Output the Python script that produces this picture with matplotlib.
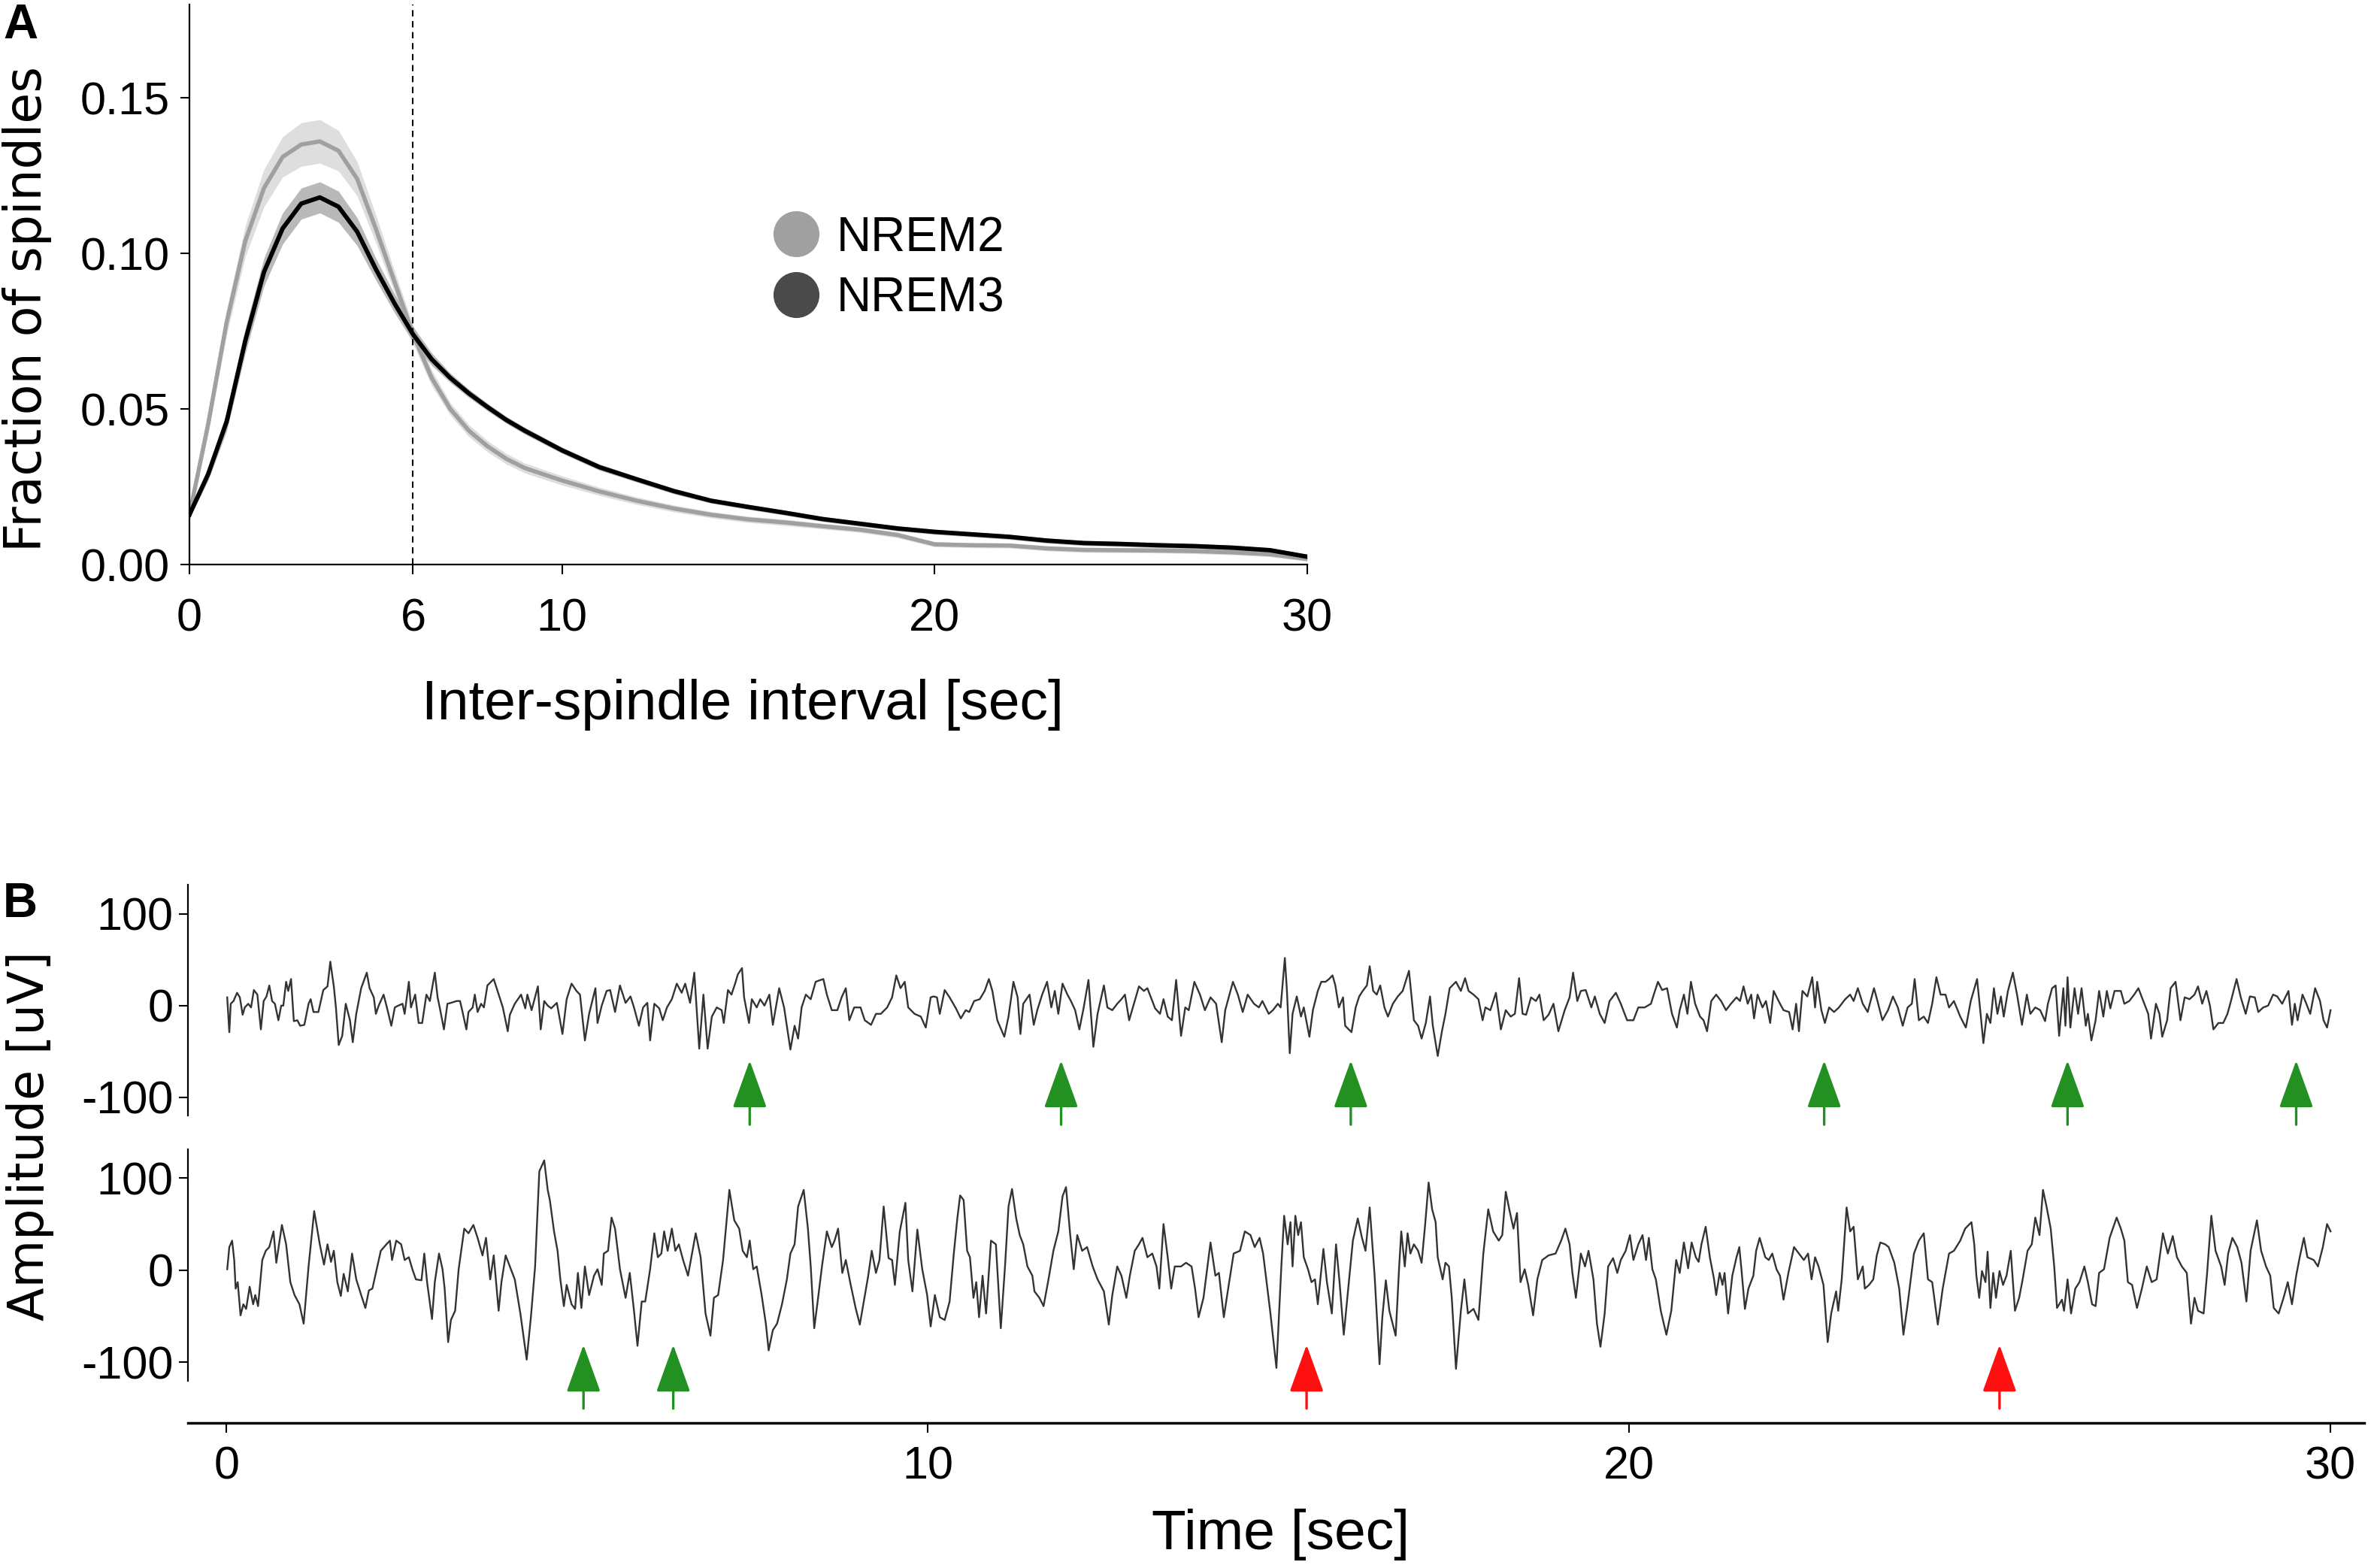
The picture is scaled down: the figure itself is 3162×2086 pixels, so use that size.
import matplotlib.pyplot as plt
from matplotlib.lines import Line2D
import numpy as np

plt.rcParams['font.family'] = ['Liberation Sans', 'DejaVu Sans']
plt.rcParams['axes.unicode_minus'] = False

# Panel A: inter-spindle interval distributions
isi_sec = [0, 0.5, 1, 1.5, 2, 2.5, 3, 3.5, 4, 4.5, 5, 5.5, 6, 6.5, 7, 7.5,
           8, 8.5, 9, 10, 11, 12, 13, 14, 15, 16, 17, 18, 19, 20, 21, 22, 23, 24, 25, 26, 27, 28, 29, 30]
nrem2_mean = [0.016, 0.045, 0.078, 0.104, 0.121, 0.131, 0.135, 0.136, 0.133, 0.124, 0.108, 0.091, 0.074, 0.060, 0.050, 0.043,
              0.038, 0.034, 0.031, 0.027, 0.0235, 0.0205, 0.018, 0.016, 0.0145, 0.0135, 0.0123, 0.0112, 0.0095, 0.0065,
              0.0062, 0.0061, 0.0052, 0.0047, 0.0046, 0.0045, 0.0043, 0.0039, 0.0033, 0.0018]
nrem2_sem = [0.001, 0.003, 0.004, 0.005, 0.006, 0.0065, 0.007, 0.007, 0.0065, 0.0055, 0.0045, 0.0035, 0.003, 0.0025, 0.002, 0.0019,
             0.0018, 0.0017, 0.0016, 0.0015, 0.0013, 0.0012, 0.0011, 0.001, 0.001, 0.001, 0.0009, 0.0009, 0.0009, 0.0008,
             0.0008, 0.0008, 0.0008, 0.0008, 0.0008, 0.0008, 0.0008, 0.0008, 0.0008, 0.0008]
nrem3_mean = [0.016, 0.029, 0.046, 0.072, 0.094, 0.108, 0.116, 0.118, 0.115, 0.107, 0.095, 0.084, 0.074, 0.066, 0.060, 0.055,
              0.0506, 0.0465, 0.043, 0.0367, 0.0313, 0.0274, 0.0236, 0.0205, 0.0185, 0.0166, 0.0146, 0.0131, 0.0116, 0.0105,
              0.0097, 0.0089, 0.0077, 0.0069, 0.0066, 0.0062, 0.0059, 0.0054, 0.0046, 0.0025]
nrem3_sem = [0.001, 0.002, 0.003, 0.004, 0.0045, 0.005, 0.005, 0.005, 0.005, 0.0045, 0.0035, 0.003, 0.0025, 0.002, 0.0015, 0.0013,
             0.0012, 0.0011, 0.0011, 0.001, 0.001, 0.0009, 0.0009, 0.0008, 0.0008, 0.0008, 0.0008, 0.0008, 0.0008, 0.0008,
             0.0008, 0.0008, 0.0008, 0.0008, 0.0008, 0.0008, 0.0008, 0.0008, 0.0008, 0.0008]
cutoff_sec = 6

# Panel B: example EEG traces (time [sec], amplitude [uV])
nrem2_trace = [
    (0.01, 9), (0.04, -29), (0.06, 2), (0.10, 5), (0.15, 14), (0.19, 9), (0.23, -10), (0.26, -2), (0.31, 2), (0.35, -2),
    (0.39, 17), (0.44, 12), (0.49, -26), (0.53, 5), (0.57, 10), (0.61, 22), (0.65, 5), (0.69, 2), (0.74, -16), (0.78, 0),
    (0.81, 0), (0.85, 26), (0.88, 16), (0.92, 29), (0.96, -17), (1.01, -16), (1.05, -22), (1.11, -21), (1.17, 2), (1.20, 7),
    (1.24, -7), (1.31, -7), (1.38, 17), (1.44, 21), (1.48, 48), (1.53, 21), (1.56, -2), (1.60, -43), (1.65, -33), (1.70, 2),
    (1.76, -16), (1.80, -40), (1.85, -9), (1.92, 19), (2.00, 36), (2.04, 19), (2.10, 9), (2.13, -9), (2.17, 0), (2.24, 12),
    (2.29, -3), (2.35, -22), (2.40, -2), (2.45, 0), (2.51, 2), (2.54, -9), (2.60, 26), (2.63, -2), (2.69, 12), (2.74, -19),
    (2.79, -19), (2.85, 12), (2.90, 5), (2.97, 36), (3.01, 9), (3.04, -2), (3.10, -26), (3.15, 2), (3.20, 3), (3.28, 5),
    (3.33, 5), (3.36, -5), (3.42, -26), (3.45, -7), (3.51, -2), (3.54, 12), (3.58, -7), (3.63, 2), (3.67, -2), (3.72, 22),
    (3.81, 29), (3.86, 17), (3.94, -2), (4.01, -28), (4.04, -10), (4.11, 2), (4.20, 12), (4.26, -3), (4.29, 12), (4.35, -5),
    (4.44, 21), (4.48, -26), (4.53, 5), (4.58, 0), (4.63, -3), (4.71, 3), (4.79, -31), (4.85, 7), (4.92, 24), (4.99, 16),
    (5.04, 12), (5.11, -38), (5.17, -9), (5.26, 19), (5.29, -19), (5.35, 0), (5.42, 16), (5.47, 17), (5.54, -7), (5.61, 22),
    (5.69, 3), (5.76, 10), (5.81, -2), (5.88, -22), (5.94, -2), (6.00, 3), (6.04, -38), (6.10, 2), (6.17, -3), (6.22, -16),
    (6.28, -2), (6.35, 7), (6.42, 24), (6.49, 14), (6.54, 24), (6.61, 3), (6.67, 36), (6.74, -47), (6.80, 12), (6.86, -47),
    (6.92, -12), (6.99, -2), (7.06, -5), (7.09, -19), (7.15, 17), (7.20, 12), (7.26, 26), (7.29, 34), (7.35, 41), (7.38, 9),
    (7.45, -19), (7.49, 7), (7.56, -2), (7.61, 7), (7.67, 0), (7.74, 12), (7.79, -21), (7.88, 19), (7.95, -2), (8.04, -48),
    (8.10, -22), (8.15, -36), (8.20, -2), (8.26, 12), (8.33, 7), (8.40, 26), (8.47, 28), (8.51, 29), (8.56, 12), (8.63, -5),
    (8.71, -5), (8.77, 9), (8.83, 19), (8.88, -16), (8.95, -2), (9.04, -2), (9.10, -16), (9.19, -21), (9.26, -9), (9.33, -9),
    (9.42, -2), (9.49, 9), (9.55, 33), (9.61, 19), (9.67, 26), (9.72, -2), (9.81, -9), (9.90, -12), (9.97, -24), (10.04, 9),
    (10.08, 10), (10.13, 9), (10.17, -9), (10.24, 17), (10.31, 9), (10.40, -3), (10.47, -14), (10.54, -5), (10.59, -7),
    (10.66, 5), (10.74, 7), (10.81, 16), (10.87, 29), (10.92, 16), (10.99, -16), (11.09, -34), (11.15, -12), (11.22, 26),
    (11.28, 9), (11.32, -31), (11.36, 2), (11.45, 12), (11.51, -21), (11.56, -5), (11.63, 12), (11.70, 26), (11.76, -2),
    (11.81, 16), (11.86, -9), (11.92, 24), (11.99, 12), (12.04, 5), (12.10, -5), (12.16, -26), (12.22, -3), (12.29, 28),
    (12.36, -45), (12.42, -9), (12.51, 22), (12.56, -2), (12.63, -5), (12.70, 2), (12.76, 7), (12.81, 12), (12.87, -16),
    (12.95, 5), (13.01, 21), (13.08, 16), (13.13, 19), (13.18, 9), (13.24, -3), (13.31, -9), (13.36, 7), (13.42, -12),
    (13.48, -16), (13.54, 28), (13.61, -33), (13.67, -2), (13.72, -5), (13.80, 26), (13.88, 12), (13.95, -5), (14.03, 9),
    (14.11, 2), (14.19, -40), (14.24, -5), (14.35, 26), (14.42, 12), (14.49, -7), (14.56, 12), (14.65, 2), (14.72, -2),
    (14.77, 5), (14.86, -9), (14.92, -5), (14.99, 2),
    (15.03, -2), (15.09, 52), (15.12, 16), (15.16, -52), (15.20, -9), (15.26, 10), (15.32, -12), (15.36, -2), (15.44, -34),
    (15.49, -5), (15.56, 16), (15.61, 26), (15.67, 26), (15.72, 29), (15.77, 33), (15.81, 22), (15.86, -2), (15.92, 9),
    (15.95, -22), (16.04, -29), (16.10, -2), (16.15, 10), (16.20, 16), (16.26, 22), (16.30, 43), (16.35, 16), (16.40, 12),
    (16.45, 22), (16.51, -2), (16.56, -12), (16.63, 2), (16.70, 10), (16.77, 16), (16.86, 38), (16.93, -16), (16.99, -22),
    (17.04, -36), (17.10, -19), (17.16, 10), (17.20, -22), (17.27, -55), (17.33, -28), (17.38, -9), (17.44, 19), (17.53, 26),
    (17.60, 16), (17.66, 30), (17.71, 16), (17.78, 12), (17.85, 7), (17.91, -16), (17.95, -2), (18.02, -5), (18.10, 14),
    (18.17, -26), (18.24, -5), (18.31, -12), (18.37, -9), (18.43, 30), (18.48, -9), (18.53, -10), (18.60, 9), (18.67, 5),
    (18.72, 12), (18.78, -16), (18.85, -10), (18.92, 2), (18.99, -28), (19.08, -5), (19.15, 9), (19.20, 36), (19.26, 5),
    (19.31, 16), (19.38, 17), (19.46, -2), (19.51, 10), (19.58, -9), (19.65, -19), (19.72, 5), (19.81, 14), (19.88, 2),
    (19.97, -16),
    (20.06, -16), (20.13, -2), (20.22, -2), (20.31, 2), (20.35, 12), (20.41, 26), (20.47, 17), (20.54, 19), (20.61, -9),
    (20.68, -24), (20.72, -5), (20.78, 12), (20.83, -9), (20.88, 26), (20.94, 2), (21.01, -12), (21.06, -16), (21.11, -28),
    (21.17, 5), (21.24, 12), (21.31, 5), (21.38, -5), (21.45, 2), (21.53, 9), (21.58, 5), (21.63, 21), (21.69, 2), (21.74, 12),
    (21.78, -14), (21.83, 12), (21.90, -2), (21.95, 5), (22.01, -19), (22.06, 16), (22.13, 5), (22.20, -5), (22.28, -7),
    (22.33, -26), (22.38, 2), (22.42, -28), (22.47, 16), (22.54, 10), (22.61, 31), (22.65, -2), (22.68, 26), (22.74, -5),
    (22.79, -19), (22.85, -2), (22.92, -7), (22.99, -2), (23.08, 7), (23.15, 12), (23.20, 5), (23.26, 19), (23.33, 2),
    (23.40, -7), (23.49, 19), (23.54, 5), (23.61, -16), (23.69, -5), (23.76, 10), (23.83, -2), (23.90, -22), (23.97, -2),
    (24.03, 2), (24.07, 29), (24.13, -16), (24.20, -12), (24.26, -19), (24.32, 2), (24.38, 31), (24.44, 12), (24.51, 12),
    (24.56, -2), (24.63, 5), (24.72, -12), (24.80, -24), (24.87, 5), (24.96, 29), (25.01, -9), (25.05, -41), (25.10, -9),
    (25.15, -19), (25.20, 19), (25.25, -9), (25.30, 10), (25.34, -12), (25.40, 16), (25.47, 36), (25.53, 12), (25.60, -21),
    (25.67, 12), (25.72, -9), (25.79, -2), (25.86, -5), (25.93, -17), (25.97, 2), (26.03, 19), (26.08, 22), (26.13, -33),
    (26.19, 19), (26.22, -22), (26.25, 31), (26.29, -24), (26.35, 19), (26.40, -9), (26.45, 19), (26.51, -22), (26.54, -9),
    (26.59, -38), (26.65, -16), (26.70, 16), (26.76, -12), (26.81, 16), (26.86, -3), (26.92, 16), (27.01, 16), (27.06, 2),
    (27.13, 5), (27.20, 12), (27.26, 19), (27.33, 5), (27.40, -9), (27.44, -36), (27.51, 2), (27.56, -9), (27.60, -34),
    (27.67, -16), (27.72, 19), (27.79, 26), (27.86, -16), (27.92, 9), (27.99, 7), (28.06, 12), (28.11, 21), (28.17, 2),
    (28.23, 16), (28.28, 0), (28.33, -26), (28.40, -19), (28.47, -19), (28.53, -9), (28.58, 5), (28.66, 29), (28.72, 9),
    (28.79, -9), (28.85, 10), (28.92, 9), (28.97, -7), (29.04, -2), (29.11, 0), (29.18, 12), (29.24, 10), (29.31, 2),
    (29.40, 16), (29.45, -21), (29.49, 2), (29.53, -16), (29.60, 12), (29.65, 3), (29.71, -9), (29.78, 19), (29.85, 5),
    (29.90, -16), (29.95, -24), (30.00, -5),
]
nrem3_trace = [
    (0.01, 1), (0.04, 25), (0.08, 32), (0.11, 11), (0.13, -20), (0.16, -13), (0.20, -49), (0.24, -37), (0.28, -42),
    (0.33, -18), (0.38, -37), (0.41, -27), (0.45, -39), (0.51, 11), (0.56, 21), (0.61, 25), (0.67, 42), (0.71, 8), (0.79, 49),
    (0.85, 28), (0.91, -13), (0.97, -27), (1.04, -37), (1.10, -58), (1.17, 4), (1.25, 64), (1.33, 28), (1.39, 6), (1.44, 28),
    (1.49, 9), (1.53, 21), (1.58, -13), (1.63, -28), (1.67, -4), (1.73, -23), (1.79, 18), (1.85, -10), (1.92, -27), (1.98, -41),
    (2.03, -22), (2.08, -20), (2.13, -3), (2.20, 21), (2.28, 28), (2.33, 32), (2.36, 11), (2.42, 32), (2.49, 28), (2.54, 11),
    (2.60, 14), (2.65, 1), (2.70, -10), (2.78, -11), (2.82, 18), (2.86, -13), (2.93, -53), (2.97, -13), (3.03, 18), (3.08, 1),
    (3.11, -20), (3.16, -78), (3.20, -54), (3.26, -44), (3.31, 1), (3.39, 45), (3.45, 40), (3.52, 49), (3.58, 35), (3.65, 16),
    (3.70, 35), (3.76, -10), (3.81, 16), (3.88, -44), (3.92, -13), (3.98, 16), (4.04, 4), (4.11, -10), (4.19, -47), (4.28, -97),
    (4.34, -51), (4.40, 4), (4.46, 107), (4.53, 119), (4.58, 87), (4.61, 76), (4.67, 42), (4.72, 21), (4.76, -10), (4.81, -39),
    (4.85, -16), (4.92, -37), (4.97, -42),
    (5.01, -3), (5.06, -41), (5.11, 4), (5.17, -27), (5.24, -6), (5.29, 1), (5.35, -16), (5.38, 18), (5.44, 21), (5.49, 57),
    (5.54, 45), (5.61, 1), (5.69, -30), (5.75, -3), (5.81, -44), (5.86, -82), (5.92, -34), (5.97, -34), (6.04, 1), (6.10, 40),
    (6.15, 14), (6.20, 18), (6.24, 42), (6.29, 21), (6.35, 45), (6.40, 21), (6.45, 28), (6.51, 11), (6.58, -6), (6.69, 40),
    (6.76, 14), (6.83, -47), (6.90, -71), (6.95, -30), (7.01, -27), (7.08, 11), (7.17, 87), (7.24, 54), (7.31, 45), (7.36, 21),
    (7.42, 14), (7.46, 32), (7.51, 1), (7.56, 4), (7.63, -27), (7.69, -58), (7.73, -87), (7.79, -65), (7.85, -58), (7.92, -37),
    (7.99, -10), (8.04, 18), (8.10, 28), (8.15, 69), (8.23, 87), (8.29, 45), (8.33, 4), (8.38, -63), (8.44, -27), (8.49, 4),
    (8.56, 42), (8.63, 25), (8.67, 32), (8.72, 45), (8.78, -3), (8.83, 11), (8.90, -16), (8.97, -41), (9.03, -59), (9.08, -37),
    (9.15, -6), (9.20, 21), (9.26, -3), (9.31, 11), (9.37, 69), (9.44, 13), (9.49, 11), (9.53, -16), (9.60, 42), (9.68, 73),
    (9.72, 11), (9.78, -23), (9.85, 44), (9.92, 1), (9.99, -27), (10.04, -61),
    (10.10, -27), (10.17, -51), (10.24, -54), (10.31, -34), (10.37, 18), (10.42, 56), (10.46, 81), (10.51, 76), (10.56, 21),
    (10.60, 14), (10.65, -30), (10.69, -13), (10.73, -51), (10.78, -6), (10.83, -47), (10.90, 32), (10.97, 28), (11.04, -63),
    (11.10, 4), (11.15, 69), (11.20, 88), (11.26, 56), (11.31, 38), (11.36, 28), (11.42, 4), (11.49, -6), (11.52, -23),
    (11.59, -30), (11.65, -39), (11.72, -10), (11.79, 21), (11.86, 42), (11.92, 80), (11.97, 90), (12.03, 38), (12.08, 1),
    (12.13, 38), (12.20, 21), (12.27, 25), (12.35, 4), (12.42, -10), (12.51, -23), (12.58, -59), (12.63, -27), (12.70, 4),
    (12.76, -6), (12.83, -30), (12.88, -6), (12.95, 21), (13.01, 28), (13.06, 35), (13.13, 14), (13.20, 18), (13.26, 4),
    (13.30, -20), (13.36, 50), (13.42, 14), (13.47, -20), (13.52, 4), (13.61, 4), (13.68, 8), (13.76, 4), (13.81, -20),
    (13.86, -51), (13.93, -30), (14.03, 30), (14.10, -6), (14.15, -3), (14.22, -51), (14.29, -16), (14.36, 18), (14.45, 21),
    (14.52, 42), (14.60, 38), (14.66, 25), (14.73, 35), (14.78, 18), (14.88, -44), (14.97, -106),
    (15.04, 4), (15.08, 59), (15.13, 28), (15.17, 52), (15.20, 4), (15.24, 59), (15.28, 38), (15.32, 52), (15.36, 14),
    (15.42, 1), (15.47, -13), (15.52, -10), (15.56, -37), (15.64, 23), (15.69, -13), (15.76, -47), (15.82, 28), (15.87, -13),
    (15.93, -70), (15.99, -23), (16.06, 32), (16.13, 56), (16.19, 35), (16.24, 21), (16.30, 68), (16.37, -6), (16.44, -102),
    (16.48, -51), (16.53, -11), (16.58, -44), (16.67, -71), (16.72, 4), (16.75, 42), (16.80, 4), (16.84, 40), (16.88, 18),
    (16.93, 28), (16.99, 21), (17.04, 8), (17.09, 49), (17.14, 95), (17.19, 66), (17.24, 52), (17.27, 14), (17.34, -10),
    (17.38, 8), (17.43, 4), (17.47, -30), (17.53, -107), (17.60, -44), (17.65, -10), (17.70, -47), (17.78, -42), (17.85, -54),
    (17.92, 18), (17.99, 66), (18.06, 42), (18.14, 32), (18.19, 38), (18.24, 85), (18.29, 66), (18.35, 45), (18.40, 62),
    (18.45, -13), (18.51, 1), (18.56, -16), (18.63, -49), (18.69, -10), (18.76, 11), (18.85, 16), (18.95, 18), (19.03, 32),
    (19.09, 45), (19.15, 28), (19.19, -3), (19.24, -30), (19.31, 18), (19.37, 4), (19.42, 21), (19.49, -10), (19.54, -58),
    (19.59, -83), (19.65, -47), (19.70, 4), (19.77, 13), (19.83, -3), (19.88, 11), (19.95, 21), (20.01, 38), (20.06, 11),
    (20.13, 28), (20.19, 38), (20.24, 11), (20.28, 35), (20.33, 1), (20.38, -10), (20.45, -44), (20.53, -70), (20.60, -44),
    (20.67, 11), (20.72, -3), (20.78, 30), (20.84, 2), (20.89, 30), (20.95, 14), (20.99, 9), (21.03, 28), (21.09, 47),
    (21.15, 14), (21.21, -10), (21.24, -27), (21.29, -3), (21.33, -16), (21.36, -3), (21.41, -47), (21.47, -6), (21.53, 14),
    (21.57, 25), (21.60, 1), (21.65, -42), (21.70, -20), (21.77, -6), (21.81, 21), (21.86, 35), (21.94, 14), (21.99, 11),
    (22.04, 18), (22.10, 1), (22.15, -6), (22.20, -32), (22.27, -3), (22.35, 25), (22.42, 18), (22.49, 11), (22.55, 18),
    (22.60, -10), (22.65, 14), (22.70, 4), (22.77, -16), (22.83, -78), (22.88, -47), (22.95, -23), (22.98, -44), (23.03, -10),
    (23.10, 68), (23.15, 42), (23.20, 47), (23.26, -10), (23.33, 4), (23.36, -20), (23.42, -16), (23.48, -10), (23.53, 16),
    (23.58, 30), (23.65, 28), (23.70, 25), (23.78, 8), (23.85, -20), (23.91, -70), (23.97, -37), (24.06, 18), (24.13, 32),
    (24.20, 40), (24.26, -10), (24.32, -13), (24.40, -59), (24.47, -20), (24.56, 18), (24.63, 21), (24.72, 32), (24.79, 45),
    (24.88, 52), (24.92, 28), (24.95, -6),
    (24.99, -30), (25.03, -1), (25.08, -13), (25.11, 20), (25.15, -41), (25.19, -3), (25.23, -30), (25.28, -1), (25.33, -16),
    (25.38, -6), (25.44, 21), (25.50, -44), (25.56, -30), (25.61, -10), (25.68, 21), (25.74, 28), (25.79, 57), (25.85, 38),
    (25.90, 87), (25.95, 69), (26.01, 45), (26.06, 4), (26.10, -41), (26.17, -32), (26.20, -44), (26.25, -10), (26.30, -47),
    (26.36, -20), (26.42, -13), (26.49, 4), (26.54, -13), (26.60, -37), (26.65, -39), (26.70, -3), (26.77, 1), (26.85, 35),
    (26.95, 57), (27.01, 45), (27.06, 32), (27.11, -13), (27.17, -16), (27.24, -41), (27.31, -20), (27.38, 4), (27.45, -13),
    (27.52, -10), (27.61, 40), (27.68, 18), (27.75, 37), (27.81, 14), (27.88, 4), (27.95, -3), (28.01, -58), (28.06, -30),
    (28.11, -44), (28.19, -47), (28.24, -3), (28.30, 59), (28.36, 21), (28.44, 4), (28.49, -16), (28.54, 18), (28.60, 35),
    (28.67, 25), (28.73, 8), (28.80, -34), (28.86, 21), (28.95, 54), (29.01, 21), (29.08, 4), (29.14, -6), (29.19, -41),
    (29.26, -47), (29.33, -30), (29.39, -13), (29.45, -37), (29.51, -6), (29.56, 14), (29.62, 35), (29.67, 14), (29.76, 11),
    (29.82, 4), (29.89, 25), (29.95, 50), (30.00, 42),
]
# spindle markers (time in sec)
nrem2_spindles = [7.46, 11.90, 16.03, 22.78, 26.25, 29.51]
nrem3_spindles = [5.09, 6.37]
nrem3_missed = [15.40, 25.28]

W, H = 3162, 2086
fig = plt.figure(figsize=(W / 100, H / 100), dpi=100)

# ---------------- panel A ----------------
axA = fig.add_axes([252 / W, 1 - 751 / H, 1487 / W, 745 / H])
x = np.array(isi_sec)
m2, s2 = np.array(nrem2_mean), np.array(nrem2_sem)
m3, s3 = np.array(nrem3_mean), np.array(nrem3_sem)
axA.fill_between(x, m2 - s2, m2 + s2, color='#dedede', lw=0, zorder=1)
axA.plot(x, m2, color='#a0a0a0', lw=4, zorder=2)
axA.fill_between(x, m3 - s3, m3 + s3, color='#a8a8a8', alpha=0.8, lw=0, zorder=3)
axA.plot(x, m3, color='black', lw=4.2, zorder=4)
axA.axvline(cutoff_sec, color='black', lw=1.5, ls=(0, (4, 3)), zorder=5)

axA.set_xlim(0, 30)
axA.set_ylim(0, 0.18)
axA.set_xticks([0, 6, 10, 20, 30])
axA.set_yticks([0, 0.05, 0.10, 0.15])
axA.set_yticklabels(['0.00', '0.05', '0.10', '0.15'])
for s in ['top', 'right']:
    axA.spines[s].set_visible(False)
for s in ['left', 'bottom']:
    axA.spines[s].set_linewidth(1.6)
axA.tick_params(axis='x', labelsize=44, length=9, width=1.5, pad=23)
axA.tick_params(axis='y', labelsize=44, length=9, width=1.5, pad=10)

handles = [Line2D([], [], marker='o', ls='', ms=43, color='#a0a0a0'),
           Line2D([], [], marker='o', ls='', ms=43, color='#4a4a4a')]
axA.legend(handles, ['NREM2', 'NREM3'], loc='center left', bbox_to_anchor=(0.521, 0.529),
           frameon=False, fontsize=46, handlelength=1.0, handletextpad=0.34,
           labelspacing=0.32, borderpad=0, borderaxespad=0)

fig.text(36 / W, 1 - 411 / H, 'Fraction of spindles', rotation=90, ha='center', va='center',
         fontsize=48, family=['DejaVu Sans'])
fig.text(988 / W, 1 - 938 / H, 'Inter-spindle interval [sec]', ha='center', va='center', fontsize=54)
fig.text(4 / W, 1 - 4 / H, 'A', ha='left', va='top', fontsize=46, weight='bold')

# ---------------- panel B ----------------
xlim_b = (-0.55, 30.48)
ax_top = fig.add_axes([250 / W, 1 - 1484 / H, 2895 / W, 307 / H])
ax_bot = fig.add_axes([250 / W, 1 - 1837 / H, 2895 / W, 308 / H])

t2, v2 = zip(*nrem2_trace)
t3, v3 = zip(*nrem3_trace)
ax_top.plot(t2, v2, color='#333333', lw=1.7)
ax_bot.plot(t3, v3, color='#333333', lw=1.7)

ax_top.set_ylim(-120, 132)
ax_bot.set_ylim(-120, 131)
for ax in (ax_top, ax_bot):
    ax.set_xlim(*xlim_b)
    ax.set_yticks([-100, 0, 100])
    ax.spines['top'].set_visible(False)
    ax.spines['right'].set_visible(False)
    ax.spines['left'].set_linewidth(1.6)
    ax.tick_params(axis='y', labelsize=44, length=9, width=1.5, pad=5)

ax_top.spines['bottom'].set_visible(False)
ax_top.tick_params(axis='x', bottom=False, labelbottom=False)
ax_bot.spines['bottom'].set_position(('outward', 40))
ax_bot.spines['bottom'].set_linewidth(2.5)
ax_bot.set_xticks([0, 10, 20, 30])
ax_bot.tick_params(axis='x', labelsize=44, length=9, width=1.5, pad=13)


def mark(ax, t, tip, tail, color):
    ax.annotate('', xy=(t, tip), xytext=(t, tail), annotation_clip=False,
                arrowprops=dict(arrowstyle='-|>,head_length=1.0,head_width=0.36', mutation_scale=40,
                                color=color, lw=2.4, shrinkA=0, shrinkB=0))


green = '#229122'
for t in nrem2_spindles:
    mark(ax_top, t, -60, -130, green)
for t in nrem3_spindles:
    mark(ax_bot, t, -81, -150, green)
for t in nrem3_missed:
    mark(ax_bot, t, -81, -150, '#ff1010')

fig.text(40 / W, 1 - 1511 / H, 'Amplitude [uV]', rotation=90, ha='center', va='center',
         fontsize=47, family=['DejaVu Sans'])
fig.text(1704 / W, 1 - 2041 / H, 'Time [sec]', ha='center', va='center', fontsize=54)
fig.text(4 / W, 1 - 1173 / H, 'B', ha='left', va='top', fontsize=46, weight='bold')

fig.savefig('out.png', dpi=100, facecolor='white')
